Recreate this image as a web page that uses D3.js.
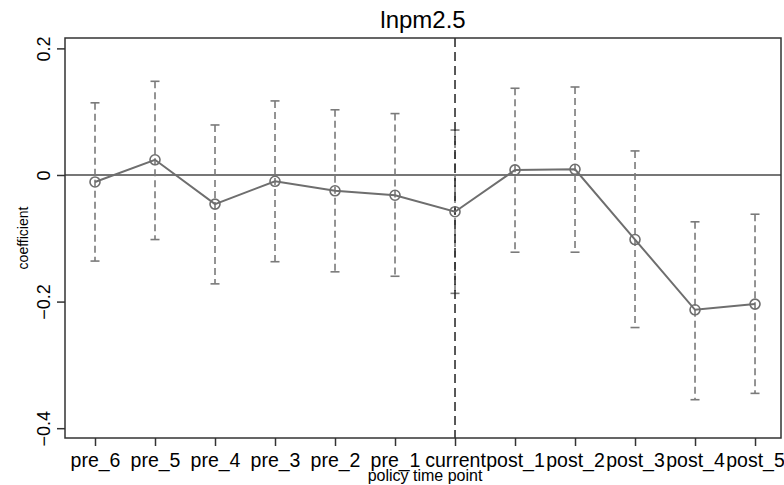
<!DOCTYPE html>
<html>
<head>
<meta charset="utf-8">
<script src="https://cdn.jsdelivr.net/npm/d3@7/dist/d3.min.js"></script>
<style>
  html, body { margin: 0; padding: 0; background: #fff; }
  svg { display: block; font-family: "Liberation Sans", Arial, sans-serif; }
</style>
</head>
<body>
<svg id="chart" width="784" height="485"></svg>
<script>
const categories = ["pre_6","pre_5","pre_4","pre_3","pre_2","pre_1","current","post_1","post_2","post_3","post_4","post_5"];
const coef  = [-0.011, 0.024, -0.046, -0.010, -0.025, -0.032, -0.058, 0.008, 0.009, -0.102, -0.213, -0.204];
const ciHigh = [0.114, 0.148, 0.079, 0.117, 0.103, 0.097, 0.071, 0.137, 0.139, 0.038, -0.074, -0.062];
const ciLow  = [-0.136, -0.102, -0.172, -0.137, -0.153, -0.160, -0.187, -0.122, -0.122, -0.241, -0.355, -0.345];
const yTicks = [0.2, 0, -0.2, -0.4];
const yTickLabels = ["0.2", "0", "\u22120.2", "\u22120.4"];
const title = "lnpm2.5";
const xTitle = "policy time point";
const yTitle = "coefficient";
const refCategory = "current";

const svg = d3.select("#chart");
const L = 65, R = 781, T = 38, B = 438;

const x = d3.scaleLinear().domain([-0.5, 11.433]).range([L, R]);
const y = d3.scaleLinear().domain([-0.4155, 0.2164]).range([B, T]);

const data = categories.map((c, i) => ({c, i, b: coef[i], hi: ciHigh[i], lo: ciLow[i]}));

// zero line
svg.append("line")
  .attr("x1", L).attr("x2", R).attr("y1", y(0)).attr("y2", y(0))
  .attr("stroke", "#4a4a4a").attr("stroke-width", 1.5);

// CI bars
const ci = svg.append("g").attr("stroke", "#7a7a7a").attr("stroke-width", 1.6).attr("fill", "none");
ci.selectAll("line.v").data(data).join("line")
  .attr("x1", d => x(d.i)).attr("x2", d => x(d.i))
  .attr("y1", d => y(d.hi)).attr("y2", d => y(d.lo))
  .attr("stroke-dasharray", "7,4");
ci.selectAll("line.ct").data(data).join("line")
  .attr("x1", d => x(d.i) - 4.5).attr("x2", d => x(d.i) + 4.5)
  .attr("y1", d => y(d.hi)).attr("y2", d => y(d.hi));
ci.selectAll("line.cb").data(data).join("line")
  .attr("x1", d => x(d.i) - 4.5).attr("x2", d => x(d.i) + 4.5)
  .attr("y1", d => y(d.lo)).attr("y2", d => y(d.lo));

// reference vertical line
const ri = categories.indexOf(refCategory);
svg.append("line")
  .attr("x1", x(ri)).attr("x2", x(ri)).attr("y1", T).attr("y2", B)
  .attr("stroke", "#222").attr("stroke-width", 1.5).attr("stroke-dasharray", "9,5");

// series line
svg.append("path").datum(data)
  .attr("fill", "none").attr("stroke", "#6e6e6e").attr("stroke-width", 2)
  .attr("d", d3.line().x(d => x(d.i)).y(d => y(d.b)));

// markers
svg.append("g").selectAll("circle").data(data).join("circle")
  .attr("cx", d => x(d.i)).attr("cy", d => y(d.b)).attr("r", 5)
  .attr("fill", "none").attr("stroke", "#6e6e6e").attr("stroke-width", 1.6);

// frame
svg.append("rect").attr("x", L).attr("y", T).attr("width", R - L).attr("height", B - T)
  .attr("fill", "none").attr("stroke", "#333").attr("stroke-width", 1.5);

// y axis
const yAxis = d3.axisLeft(y).tickValues(yTicks).tickSize(8).tickPadding(0)
  .tickFormat((d, i) => yTickLabels[i]);
const gy = svg.append("g").attr("transform", `translate(${L},0)`).call(yAxis);
gy.select(".domain").remove();
gy.selectAll(".tick line").attr("stroke", "#333").attr("stroke-width", 1.5);
gy.selectAll(".tick text")
  .attr("x", null).attr("dy", null)
  .attr("transform", "translate(-15,0) rotate(-90)")
  .attr("text-anchor", "middle")
  .attr("font-size", 18).attr("fill", "#000");

// x axis
const xAxis = d3.axisBottom(x).tickValues(d3.range(categories.length)).tickSize(8).tickPadding(0)
  .tickFormat(i => categories[i]);
const gx = svg.append("g").attr("transform", `translate(0,${B})`).call(xAxis);
gx.select(".domain").remove();
gx.selectAll(".tick line").attr("stroke", "#333").attr("stroke-width", 1.5);
gx.selectAll(".tick text")
  .attr("y", 29).attr("dy", null)
  .attr("font-size", 19.5).attr("fill", "#000");

// titles
svg.append("text").attr("x", (L + R) / 2).attr("y", 28).attr("text-anchor", "middle")
  .attr("font-size", 24).attr("fill", "#000").text(title);
svg.append("text").attr("x", 425).attr("y", 481).attr("text-anchor", "middle")
  .attr("font-size", 16).attr("fill", "#000").text(xTitle);
svg.append("text").attr("transform", `translate(28,${(T + B) / 2}) rotate(-90)`)
  .attr("text-anchor", "middle").attr("font-size", 14).attr("fill", "#000").text(yTitle);
</script>
</body>
</html>
